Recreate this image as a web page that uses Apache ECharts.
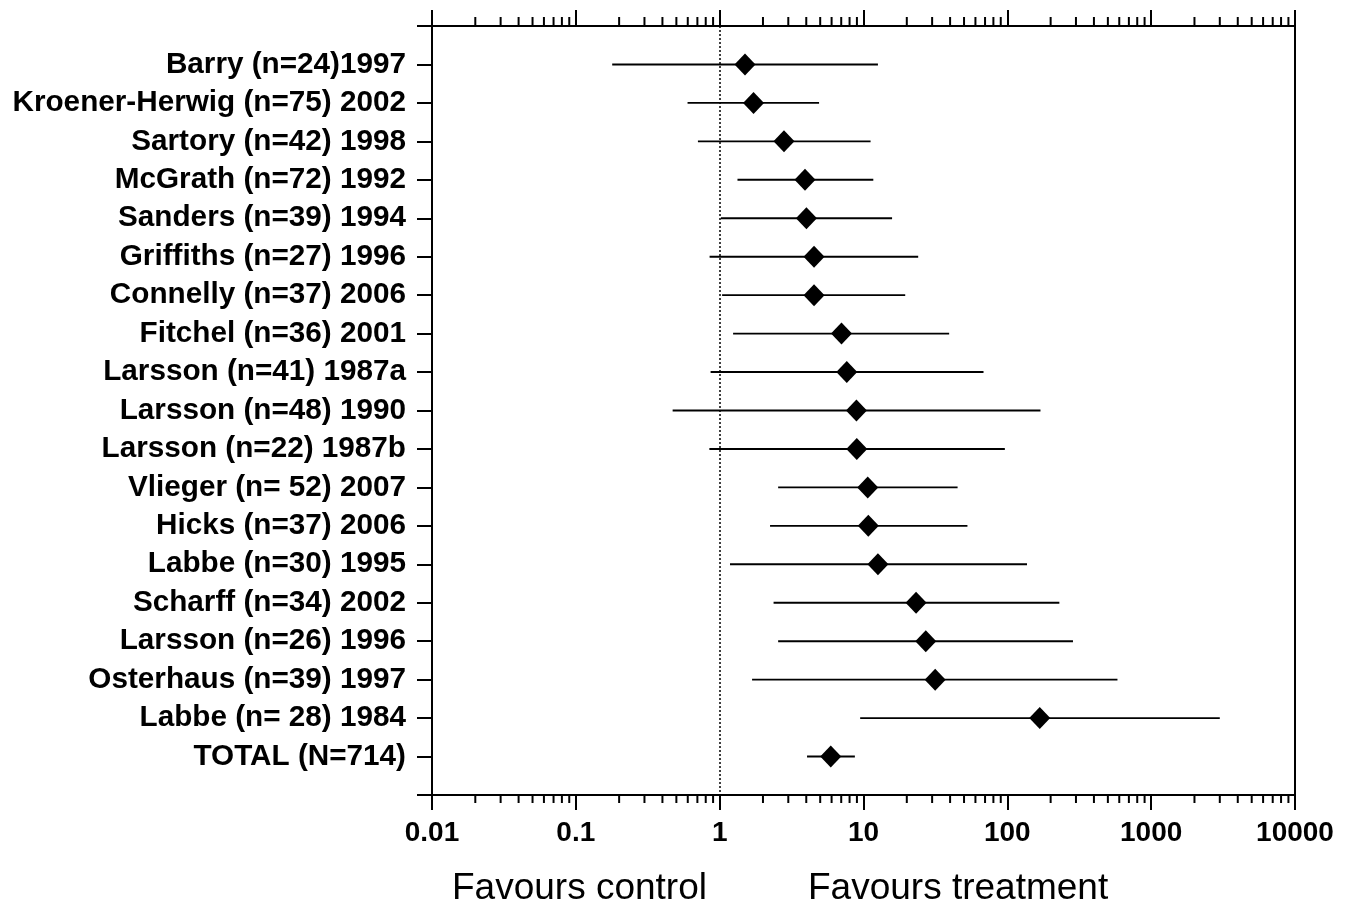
<!DOCTYPE html>
<html>
<head>
<meta charset="utf-8">
<script src="https://cdn.jsdelivr.net/npm/echarts@6/dist/echarts.min.js"></script>
<style>
  html, body { margin: 0; padding: 0; background: #fff; }
  #chart { width: 1353px; height: 910px; }
</style>
</head>
<body>
<div id="chart"></div>
<script>
// forest plot, odds ratios on a log scale
const studies = [
  'Barry (n=24)1997',
  'Kroener-Herwig (n=75) 2002',
  'Sartory (n=42) 1998',
  'McGrath (n=72) 1992',
  'Sanders (n=39) 1994',
  'Griffiths (n=27) 1996',
  'Connelly (n=37) 2006',
  'Fitchel (n=36) 2001',
  'Larsson (n=41) 1987a',
  'Larsson (n=48) 1990',
  'Larsson (n=22) 1987b',
  'Vlieger (n= 52) 2007',
  'Hicks (n=37) 2006',
  'Labbe (n=30) 1995',
  'Scharff (n=34) 2002',
  'Larsson (n=26) 1996',
  'Osterhaus (n=39) 1997',
  'Labbe (n= 28) 1984',
  'TOTAL (N=714)'
]
const estimates = [1.50, 1.72, 2.80, 3.92, 4.01, 4.53, 4.53, 7.03, 7.65, 8.93, 8.98, 10.7, 10.8, 12.6, 23.2, 27.1, 31.5, 168, 5.92]
const lower = [0.179, 0.598, 0.706, 1.33, 1.02, 0.851, 1.04, 1.24, 0.865, 0.471, 0.848, 2.55, 2.24, 1.18, 2.37, 2.55, 1.68, 9.48, 4.05]
const upper = [12.6, 4.91, 11.2, 11.7, 15.8, 24.0, 19.5, 39.4, 68.3, 170, 96.1, 45.1, 52.8, 137, 230, 286, 583, 3000, 8.71]

const xTickLabels = ['0.01', '0.1', '1', '10', '100', '1000', '10000']
const decades = [0.01, 0.1, 1, 10, 100, 1000]
const minorSteps = [2, 3, 4, 5, 6, 7, 8, 9]

// unlabelled minor ticks of the log axis
const minorTicks = []
decades.forEach(d => minorSteps.forEach(m => minorTicks.push(+(d * m).toPrecision(3))))

const FONT = "'Liberation Sans', Arial, Helvetica, sans-serif"
const chart = echarts.init(document.getElementById('chart'), null, { renderer: 'canvas' })

chart.setOption({
  animation: false,
  backgroundColor: '#fff',
  grid: {
    left: 432, right: 58, top: 26, bottom: 115,
    show: true, borderColor: '#000', borderWidth: 2
  },
  xAxis: [
    {
      type: 'log', logBase: 10, min: 0.01, max: 10000, splitNumber: 6,
      position: 'bottom',
      axisLine: { onZero: false, lineStyle: { color: '#000', width: 2 } },
      axisTick: { length: 15, lineStyle: { color: '#000', width: 2 } },
      splitLine: { show: false },
      axisLabel: {
        color: '#000', fontFamily: FONT, fontWeight: 'bold', fontSize: 28, margin: 24,
        formatter: (v) => xTickLabels[Math.round(Math.log10(v)) + 2] || ''
      }
    },
    {
      type: 'log', logBase: 10, min: 0.01, max: 10000, splitNumber: 6,
      position: 'top',
      axisLine: { onZero: false, lineStyle: { color: '#000', width: 2 } },
      axisTick: { length: 16, lineStyle: { color: '#000', width: 2 } },
      splitLine: { show: false },
      axisLabel: { show: false }
    }
  ],
  yAxis: {
    type: 'value', min: 0, max: 20, interval: 1, inverse: true,
    axisLine: { onZero: false, lineStyle: { color: '#000', width: 2 } },
    axisTick: { length: 15, lineStyle: { color: '#000', width: 2 } },
    splitLine: { show: false },
    axisLabel: {
      color: '#000', fontFamily: FONT, fontWeight: 'bold', fontSize: 29.7, margin: 26,
      formatter: (v) => studies[v - 1] || ''
    }
  },
  graphic: [
    { type: 'text', left: 452, top: 870, style: { text: 'Favours control', fill: '#000', font: '37px ' + FONT } },
    { type: 'text', left: 808, top: 870, style: { text: 'Favours treatment', fill: '#000', font: '37px ' + FONT } }
  ],
  series: [
    {
      // minor ticks on both x axes
      type: 'custom',
      silent: true,
      data: minorTicks.map(v => [v, 0]),
      encode: { x: 0, y: 1 },
      renderItem: (params, api) => {
        const top = api.coord([api.value(0), 0])
        const bot = api.coord([api.value(0), 20])
        return {
          type: 'group',
          children: [
            { type: 'line', shape: { x1: bot[0], y1: bot[1], x2: bot[0], y2: bot[1] + 8 }, style: { stroke: '#000', lineWidth: 2 } },
            { type: 'line', shape: { x1: top[0], y1: top[1], x2: top[0], y2: top[1] - 9 }, style: { stroke: '#000', lineWidth: 2 } }
          ]
        }
      }
    },
    {
      // confidence intervals
      type: 'custom',
      silent: true,
      data: studies.map((s, i) => [lower[i], upper[i], i + 1]),
      encode: { x: [0, 1], y: 2 },
      renderItem: (params, api) => {
        const a = api.coord([api.value(0), api.value(2)])
        const b = api.coord([api.value(1), api.value(2)])
        return {
          type: 'line',
          shape: { x1: a[0], y1: a[1], x2: b[0], y2: b[1] },
          style: { stroke: '#000', lineWidth: 1.9 }
        }
      },
      markLine: {
        silent: true,
        symbol: ['none', 'none'],
        label: { show: false },
        lineStyle: { color: '#000', type: [2, 2], width: 1.5 },
        data: [{ xAxis: 1 }]
      }
    },
    {
      type: 'scatter',
      silent: true,
      symbol: 'diamond',
      symbolSize: [21, 22],
      itemStyle: { color: '#000', opacity: 1 },
      data: studies.map((s, i) => [estimates[i], i + 1])
    }
  ]
})
</script>
</body>
</html>
